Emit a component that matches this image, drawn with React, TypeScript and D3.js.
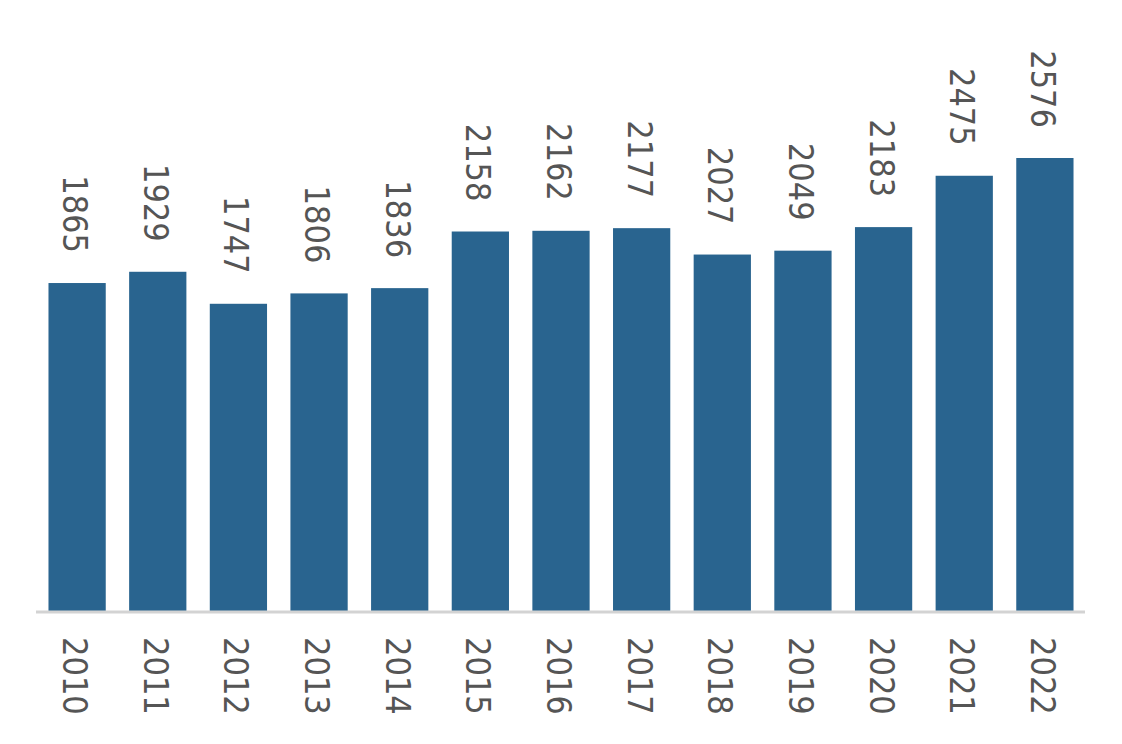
import React from "react";
import * as d3 from "d3";

const years = ["2010","2011","2012","2013","2014","2015","2016","2017","2018","2019","2020","2021","2022"];
const values = [1865,1929,1747,1806,1836,2158,2162,2177,2027,2049,2183,2475,2576];

const W = 1122, H = 744;
const FONT = "'DejaVu Sans Condensed', 'DejaVu Sans', sans-serif";

export default function App() {
  const x = d3.scaleBand<string>().domain(years).range([38, 1084]).paddingInner(0.29).paddingOuter(0.13);
  const y = d3.scaleLinear().domain([0, 2576]).range([611, 158]);
  const bw = x.bandwidth();
  return (
    <svg width={W} height={H} style={{ position: "absolute", left: 0, top: 0, background: "#fff" }}>
      {years.map((yr, i) => {
        const cx = (x(yr) as number) + bw / 2;
        return (
          <g key={yr}>
            <rect x={x(yr)} y={y(values[i])} width={bw} height={y(0) - y(values[i])} fill="#29648f" />
            <text transform={`translate(${cx - 2},${y(values[i]) - 30}) rotate(90)`} textAnchor="end" dominantBaseline="central"
              fontFamily={FONT} fontSize={34} fill="#555">{values[i]}</text>
            <text transform={`translate(${cx - 2},${637}) rotate(90)`} textAnchor="start" dominantBaseline="central"
              fontFamily={FONT} fontSize={34} fill="#555">{yr}</text>
          </g>
        );
      })}
      <line x1={36} x2={1085} y1={612} y2={612} stroke="#d3d3d3" strokeWidth={3} />
    </svg>
  );
}
